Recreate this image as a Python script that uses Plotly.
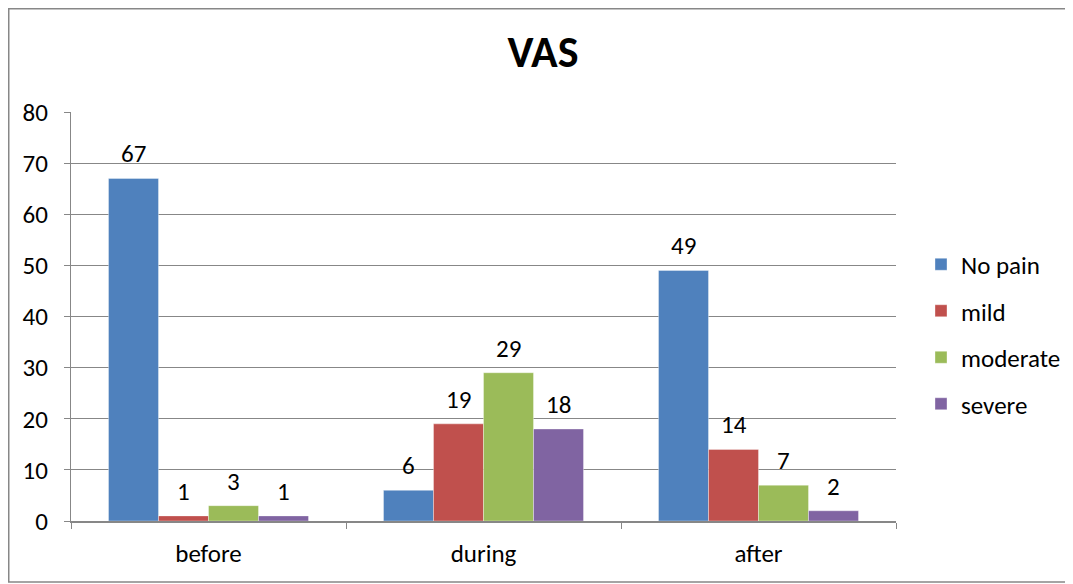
import plotly.graph_objects as go

categories = ["before", "during", "after"]
series_names = ["No pain", "mild", "moderate", "severe"]
no_pain = [67, 6, 49]
mild = [1, 19, 14]
moderate = [3, 29, 7]
severe = [1, 18, 2]
y_ticks = [0, 10, 20, 30, 40, 50, 60, 70, 80]

colors = ["#4F81BD", "#C0504D", "#9BBB59", "#8064A2"]
FONT = "Carlito, Lato, sans-serif"

# page has an 8px body margin, so the figure is drawn 8px in from the page corner
W, H = 1065, 576
L, R, T, B = 63, 177, 104, 63
plot_w = W - L - R
plot_h = H - T - B
bargap = 75 / 275

fig = go.Figure()
all_values = [no_pain, mild, moderate, severe]
for i, (name, vals, col) in enumerate(zip(series_names, all_values, colors)):
    fig.add_trace(go.Bar(
        x=categories, y=vals, name=name,
        marker=dict(color=col, line=dict(color="rgba(255,255,255,0.35)", width=1)),
        legendgroup=name,
    ))

# data labels as annotations, offset from category centre according to series
cat_px = plot_w / len(categories)
bar_px = cat_px * (1 - bargap) / len(series_names)
for i, vals in enumerate(all_values):
    off = (i - (len(series_names) - 1) / 2) * bar_px
    for c, v in zip(categories, vals):
        fig.add_annotation(x=c, y=v, text=str(v), showarrow=False,
                           xshift=off, yanchor="bottom", yshift=7,
                           font=dict(family=FONT, size=25, color="#000000"))

# outer chart border
x0 = (0.75 - L) / plot_w
x1 = (1080 - L) / plot_w
y1 = (H - B - 0.75) / plot_h
y0 = (H - B - 574) / plot_h
fig.add_shape(type="rect", xref="paper", yref="paper", x0=x0, x1=x1, y0=y0, y1=y1,
              line=dict(color="#878787", width=1.5), fillcolor="rgba(0,0,0,0)", layer="below")

fig.update_layout(
    width=W, height=H,
    margin=dict(l=L, r=R, t=T, b=B, autoexpand=False),
    paper_bgcolor="white", plot_bgcolor="white",
    barmode="group", bargap=bargap, bargroupgap=0,
    font=dict(family=FONT, size=25, color="#000000"),
    title=dict(text="<b>VAS</b>", x=535 / W, xref="container", xanchor="center",
               y=1 - 44 / H, yref="container", yanchor="middle",
               font=dict(family=FONT, size=44, color="#000000")),
    legend=dict(x=(913 - L) / plot_w, xanchor="left", y=(H - B - 326) / plot_h, yanchor="middle",
                font=dict(family=FONT, size=25), tracegroupgap=11,
                bgcolor="rgba(0,0,0,0)", itemwidth=30),
    showlegend=True,
)
fig.update_yaxes(range=[0, 80], tickvals=y_ticks, showgrid=True, gridcolor="#878787", gridwidth=1,
                 showline=True, linecolor="#878787", linewidth=1.2,
                 ticks="outside", ticklen=6, tickcolor="#878787", ticklabelstandoff=11,
                 zeroline=False, tickfont=dict(family=FONT, size=25))
fig.update_xaxes(showline=True, linecolor="#878787", linewidth=1.5,
                 ticks="outside", ticklen=6, tickcolor="#878787", tickson="boundaries",
                 ticklabelstandoff=9, tickfont=dict(family=FONT, size=25))

fig.write_html("out.html")
